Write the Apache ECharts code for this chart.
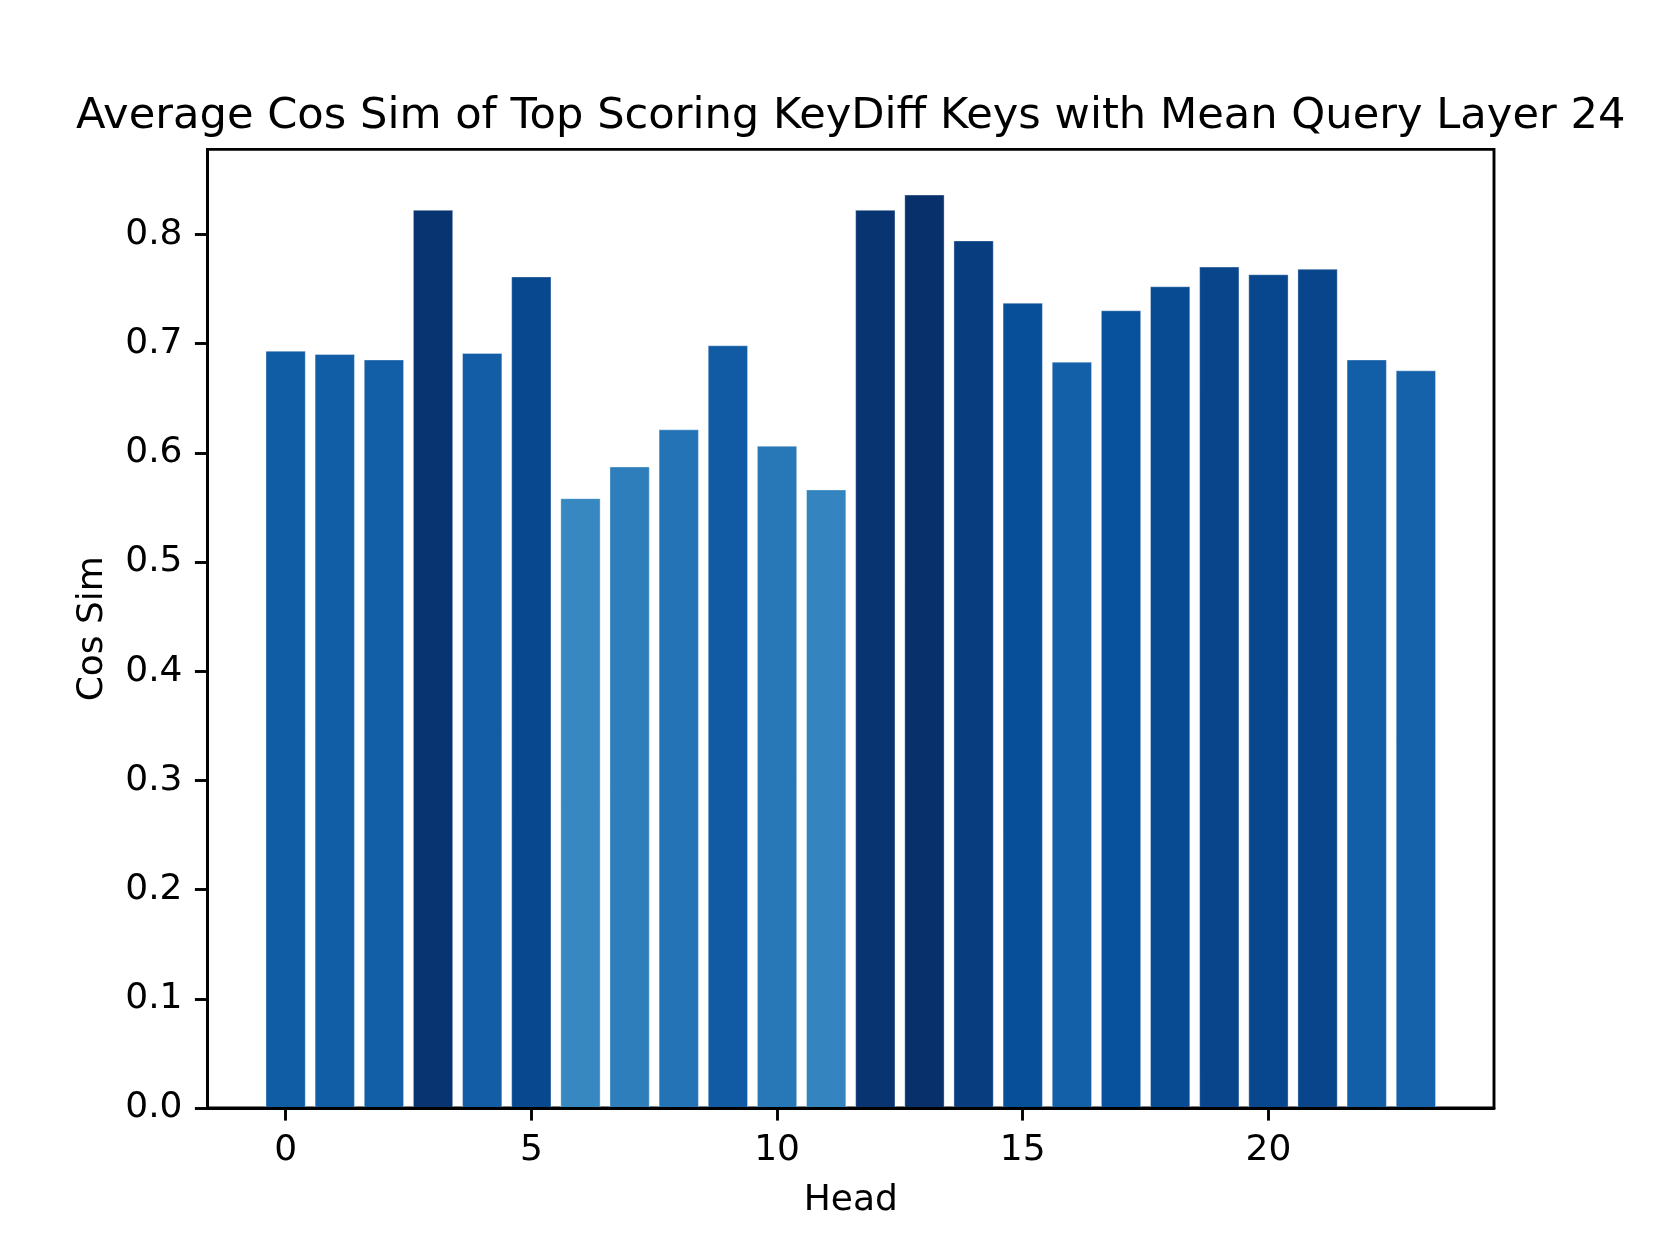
<!DOCTYPE html>
<html>
<head>
<meta charset="utf-8">
<script src="https://cdn.jsdelivr.net/npm/echarts@6/dist/echarts.min.js"></script>
<style>
html,body{margin:0;padding:0;background:#fff;}
#chart{width:1660px;height:1245px;}
</style>
</head>
<body>
<div id="chart"></div>
<script>
// ---- data ----
var heads = [0,1,2,3,4,5,6,7,8,9,10,11,12,13,14,15,16,17,18,19,20,21,22,23];
var cosSim = [0.693,0.690,0.685,0.822,0.691,0.761,0.558,0.587,0.621,0.698,0.606,0.566,
              0.822,0.836,0.794,0.737,0.683,0.730,0.752,0.770,0.763,0.768,0.685,0.675];
var xTicks = [0,5,10,15,20];
var yTicks = [0,0.1,0.2,0.3,0.4,0.5,0.6,0.7,0.8];
var titleText = 'Average Cos Sim of Top Scoring KeyDiff Keys with Mean Query Layer 24';
var xLabel = 'Head';
var yLabel = 'Cos Sim';

// ---- styling ----
var BLUES = ['#f7fbff','#deebf7','#c6dbef','#9ecae1','#6baed6','#4292c6','#2171b5','#08519c','#08306b'];
var BAR_W = 0.8;
var FONT = 'DejaVu Sans';
var LW = 2.9;

var maxV = Math.max.apply(null, cosSim);
var xMin = -BAR_W/2 - 0.05*(heads.length - 1 + BAR_W);
var xMax = heads[heads.length-1] + BAR_W/2 + 0.05*(heads.length - 1 + BAR_W);
var yMax = maxV * 1.05;

var data = heads.map(function(h, i){ return [h, cosSim[i]]; });

var chart = echarts.init(document.getElementById('chart'), null, {renderer:'canvas'});
chart.setOption({
  animation: false,
  backgroundColor: '#ffffff',
  textStyle: {fontFamily: FONT},
  grid: {left: 207.5, right: 166, top: 149.4, bottom: 137, show: true, borderColor: '#000', borderWidth: LW, backgroundColor: 'transparent'},
  graphic: [{
    type: 'text', x: 850.75, y: 117, z: 100,
    style: {text: titleText, fontFamily: FONT, fontSize: 43.2, fill: '#000', textAlign: 'center', textVerticalAlign: 'middle'}
  }],
  xAxis: {
    type: 'value', min: xMin, max: xMax, z: 10,
    name: xLabel, nameLocation: 'middle', nameGap: 75,
    nameTextStyle: {fontFamily: FONT, fontSize: 36, color: '#000'},
    axisLine: {show: true, onZero: false, lineStyle: {color: '#000', width: LW}},
    axisTick: {show: true, inside: false, length: 12.6, lineStyle: {color: '#000', width: LW}, customValues: xTicks},
    axisLabel: {show: true, margin: 25, fontFamily: FONT, fontSize: 36, color: '#000', customValues: xTicks, formatter: function(v){return String(v);}},
    splitLine: {show: false}
  },
  yAxis: {
    type: 'value', min: 0, max: yMax, z: 10,
    name: yLabel, nameLocation: 'middle', nameGap: 97, nameRotate: 90,
    nameTextStyle: {fontFamily: FONT, fontSize: 36, color: '#000'},
    axisLine: {show: true, onZero: false, lineStyle: {color: '#000', width: LW}},
    axisTick: {show: true, inside: false, length: 12.6, lineStyle: {color: '#000', width: LW}, customValues: yTicks},
    axisLabel: {show: true, margin: 25, fontFamily: FONT, fontSize: 36, color: '#000', customValues: yTicks, formatter: function(v){return v.toFixed(1);}},
    splitLine: {show: false}
  },
  visualMap: {
    type: 'continuous', show: false, dimension: 1, seriesIndex: 0,
    min: 0, max: maxV, inRange: {color: BLUES}
  },
  series: [{
    type: 'custom',
    encode: {x: 0, y: 1},
    data: data,
    z: 2,
    renderItem: function(params, api){
      var x = api.value(0), v = api.value(1);
      var p0 = api.coord([x - BAR_W/2, v]);
      var p1 = api.coord([x + BAR_W/2, 0]);
      return {
        type: 'rect',
        shape: {x: p0[0], y: p0[1], width: p1[0]-p0[0], height: p1[1]-p0[1]},
        style: {fill: api.visual('color'), stroke: 'rgba(255,255,255,0.35)', lineWidth: 1}
      };
    }
  }]
});
</script>
</body>
</html>
